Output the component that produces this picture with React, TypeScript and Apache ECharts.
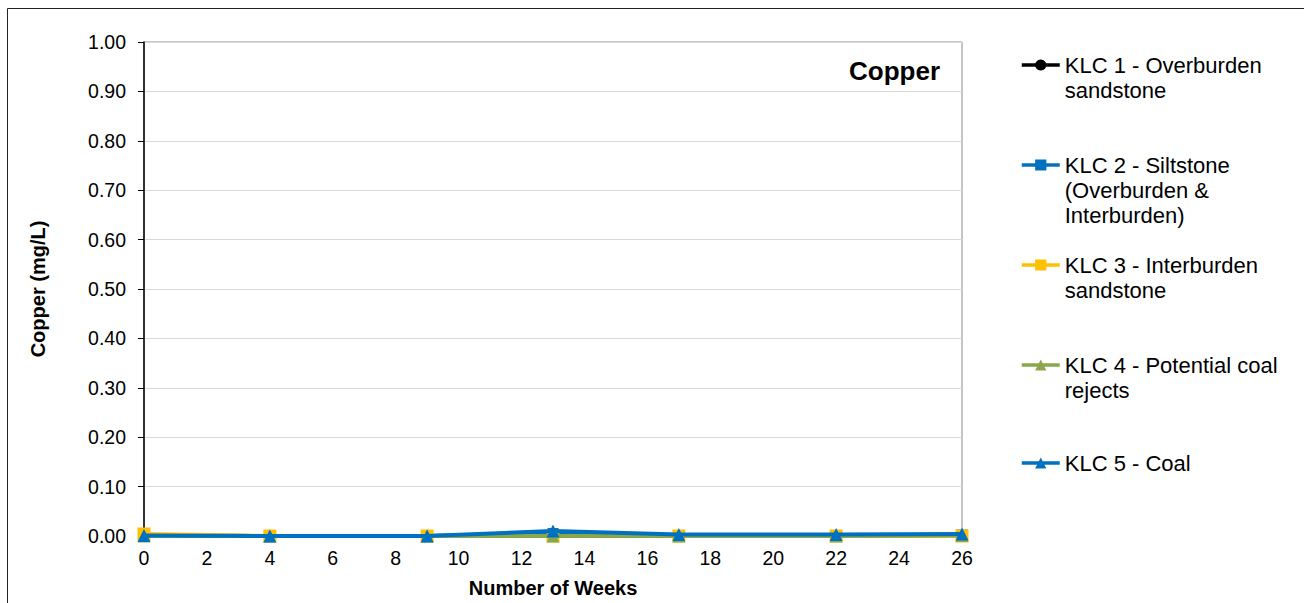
import React, { useEffect, useRef } from "react";
import * as echarts from "echarts";

const weeks = [0, 4, 9, 13, 17, 22, 26];
const seriesNames = [
  "KLC 1 - Overburden\nsandstone",
  "KLC 2 - Siltstone\n(Overburden &\nInterburden)",
  "KLC 3 - Interburden\nsandstone",
  "KLC 4 - Potential coal\nrejects",
  "KLC 5 - Coal",
];
const klc1 = [0.001, 0.0, 0.0, 0.002, 0.001, 0.001, 0.001];
const klc2 = [0.001, 0.0, 0.0, 0.005, 0.001, 0.001, 0.002];
const klc3 = [0.004, 0.0, 0.0, 0.0, 0.0, 0.0, 0.0];
const klc4 = [0.0, 0.0, 0.0, 0.0, 0.0, 0.0, 0.001];
const klc5 = [0.001, 0.0, 0.0, 0.01, 0.003, 0.003, 0.004];
const seriesValues = [klc1, klc2, klc3, klc4, klc5];
const colors = ["#000000", "#0070C0", "#FFC000", "#8AA84A", "#0070C0"];
const symbols = ["circle", "rect", "rect", "triangle", "triangle"];
const symbolSizes = [10, 11, 13, 13, 13];

const FONT = "'Liberation Sans', Arial, sans-serif";

export default function App() {
  const ref = useRef<HTMLDivElement>(null);
  useEffect(() => {
    if (!ref.current) return;
    const chart = echarts.init(ref.current, undefined, { renderer: "svg" });
    const legendCenters = [65, 165, 265, 365, 463];
    const lh = 25;
    const legends = seriesNames.map((n, i) => {
      const lines = n.split("\n").length;
      return {
        orient: "vertical" as const,
        left: 1020,
        top: legendCenters[i] - 12.5 - (lines - 1) * lh,
        padding: 0,
        itemWidth: 38,
        itemHeight: 14,
        itemGap: 0,
        data: [n],
        formatter: (name: string) => "\n".repeat(lines - 1) + name,
        lineStyle: { width: 3.5 },
        textStyle: {
          fontFamily: FONT,
          fontSize: 22,
          lineHeight: lh,
          color: "#000",
        },
      };
    });
    chart.setOption({
      animation: false,
      textStyle: { fontFamily: FONT },
      title: {
        text: "Copper",
        right: 364,
        top: 56,
        padding: 0,
        textStyle: { fontFamily: FONT, fontSize: 26, fontWeight: "bold", color: "#000", lineHeight: 30 },
      },
      graphic: [
        {
          type: "rect",
          shape: { x: 7.5, y: 8.5, width: 1400, height: 700 },
          style: { fill: "none", stroke: "#222", lineWidth: 1 },
          silent: true,
        },
      ],
      legend: legends,
      grid: {
        left: 144,
        right: 342,
        top: 42,
        bottom: 66,
        show: true,
        borderColor: "#8c8c8c",
        borderWidth: 1,
        backgroundColor: "transparent",
      },
      xAxis: {
        type: "value",
        min: 0,
        max: 26,
        interval: 2,
        name: "Number of Weeks",
        nameLocation: "middle",
        nameGap: 42,
        nameTextStyle: { fontFamily: FONT, fontSize: 20, fontWeight: "bold", color: "#000" },
        axisLine: { show: true, onZero: false, lineStyle: { color: "#000", width: 1.5 } },
        axisTick: { show: false },
        axisLabel: { fontFamily: FONT, fontSize: 19.5, color: "#000", margin: 12 },
        splitLine: { show: false },
      },
      yAxis: {
        type: "value",
        min: 0,
        max: 1,
        interval: 0.1,
        name: "Copper (mg/L)",
        nameLocation: "middle",
        nameGap: 96,
        nameTextStyle: { fontFamily: FONT, fontSize: 20, fontWeight: "bold", color: "#000" },
        axisLine: { show: true, lineStyle: { color: "#000", width: 1.5 } },
        axisTick: { show: true, length: 6, lineStyle: { color: "#000" } },
        axisLabel: {
          fontFamily: FONT,
          fontSize: 19.5,
          color: "#000",
          margin: 18,
          formatter: (v: number) => v.toFixed(2),
        },
        splitLine: { show: true, lineStyle: { color: "#d9d9d9", width: 1 } },
      },
      series: seriesNames.map((n, i) => ({
        name: n,
        type: "line",
        data: weeks.map((w, j) => [w, seriesValues[i][j]]),
        symbol: symbols[i],
        symbolSize: symbolSizes[i],
        showSymbol: true,
        clip: false,
        lineStyle: { color: colors[i], width: 4 },
        itemStyle: { color: colors[i] },
        z: 2 + i,
      })),
    });
    return () => chart.dispose();
  }, []);
  return (
    <div
      ref={ref}
      style={{ position: "absolute", left: 0, top: 0, width: 1304, height: 603, background: "#fff" }}
    />
  );
}
